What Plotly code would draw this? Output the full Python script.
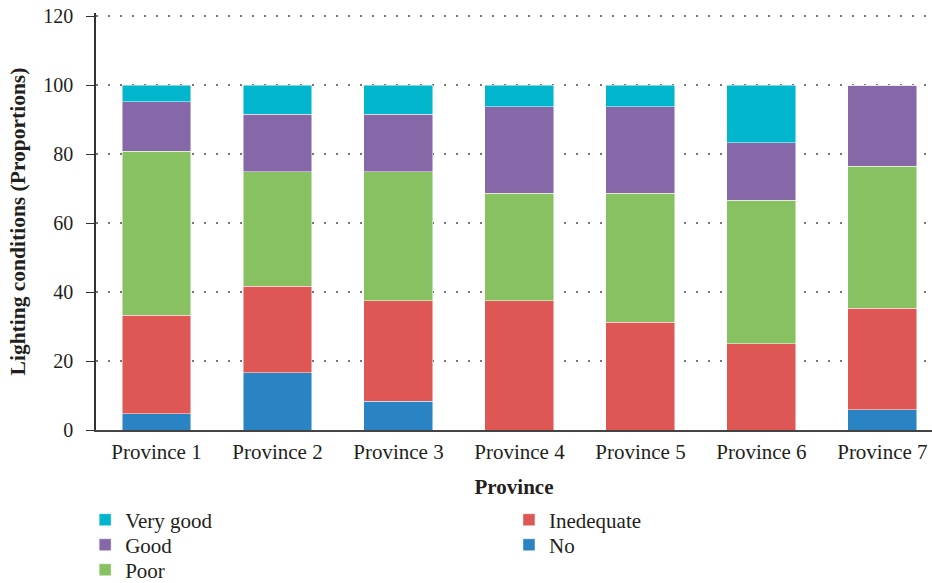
import plotly.graph_objects as go

provinces = ['Province 1', 'Province 2', 'Province 3', 'Province 4',
             'Province 5', 'Province 6', 'Province 7']

# proportions (%) per lighting condition, bottom to top of the stack
no_light = [4.76, 16.67, 8.33, 0, 0, 0, 5.88]
inedequate = [28.57, 25.0, 29.17, 37.5, 31.25, 25.0, 29.41]
poor = [47.62, 33.33, 37.5, 31.25, 37.5, 41.67, 41.18]
good = [14.29, 16.67, 16.67, 25.0, 25.0, 16.67, 23.53]
very_good = [4.76, 8.33, 8.33, 6.25, 6.25, 16.67, 0]

# name, values, colour, legend id
series = [
    ('No', no_light, '#2a83c3', 'legend5'),
    ('Inedequate', inedequate, '#df5754', 'legend4'),
    ('Poor', poor, '#88c162', 'legend3'),
    ('Good', good, '#8667a8', 'legend2'),
    ('Very good', very_good, '#00b5cc', 'legend'),
]

fig = go.Figure()
for name, vals, col, lg in series:
    fig.add_trace(go.Bar(
        x=provinces, y=vals, name=name, legend=lg,
        marker=dict(color=col, line=dict(color='rgba(255,255,255,0.6)', width=0.8)),
        width=0.57,
    ))

serif = 'Liberation Serif'
txt = '#231f20'

# one legend per entry so the two-column, column-major layout matches
def leg(x, y):
    return dict(x=x, y=y, xanchor='left', yanchor='middle',
                font=dict(size=21, color=txt), itemwidth=30,
                bgcolor='rgba(0,0,0,0)')

fig.update_layout(
    barmode='stack',
    width=932, height=583,
    margin=dict(l=96, r=0, t=13, b=153, autoexpand=False),
    plot_bgcolor='white', paper_bgcolor='white',
    font=dict(family=serif, size=20, color=txt),
    showlegend=True,
    legend=leg(-0.013, -0.216),
    legend2=leg(-0.013, -0.276),
    legend3=leg(-0.013, -0.336),
    legend4=leg(0.494, -0.216),
    legend5=leg(0.494, -0.276),
    xaxis=dict(
        range=[-0.5, 6.41], automargin=False,
        showline=True, linecolor='#444444', linewidth=2,
        ticks='', tickfont=dict(size=21), ticklabelstandoff=2,
        title=dict(text='<b>Province</b>', font=dict(size=21), standoff=16),
    ),
    yaxis=dict(
        range=[0, 121], tickvals=[0, 20, 40, 60, 80, 100, 120], automargin=False,
        showline=True, linecolor='#333333', linewidth=1.5,
        ticks='outside', ticklen=8, tickcolor='#333333', ticklabelstandoff=9,
        showgrid=True, gridcolor='#777777', gridwidth=1.5, griddash='2px,10px',
        zeroline=False, tickfont=dict(size=20),
        title=dict(text='<b>Lighting conditions (Proportions)</b>', font=dict(size=21.5), standoff=12),
    ),
)

# drop the page's default 8px body margin so the figure fills the window
fig.write_html('out.html', config={'displayModeBar': False},
               post_script="document.body.style.margin='0';document.body.style.overflow='hidden';")
